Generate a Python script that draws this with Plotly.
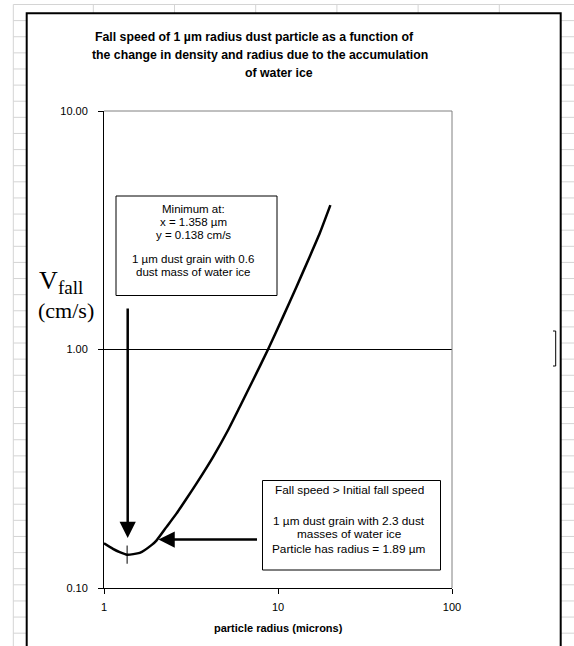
import plotly.graph_objects as go

# ---------------- data ----------------
radius_um = [1.0, 1.126, 1.231, 1.358, 1.604, 1.89, 2.0, 2.283, 2.607, 2.977, 3.397,
             4.23, 5.16, 6.025, 7.18, 8.76, 10.68, 12.76, 15.21, 17.37, 20.0]
vfall_cms = [0.154, 0.146, 0.1414, 0.138, 0.1403, 0.152, 0.158, 0.180, 0.205, 0.2368, 0.274,
             0.354, 0.4585, 0.574, 0.743, 1.0, 1.37, 1.83, 2.45, 3.07, 4.03]
min_radius = [1.358]
min_vfall = [0.138]

x_ticks = [1, 10, 100]
x_tick_labels = ["1", "10", "100"]
y_ticks = [0.1, 1, 10]
y_tick_labels = ["0.10", "1.00", "10.00"]

title_lines = ["Fall speed of 1 µm radius dust particle as a function of",
               "the change in density and radius due to the accumulation",
               "of water ice"]
box1_lines = ["Minimum at:", "x = 1.358 µm", "y = 0.138 cm/s",
              "1 µm dust grain with 0.6", "dust mass of water ice"]
box2_lines = ["Fall speed > Initial fall speed", "1 µm dust grain with 2.3 dust",
              "masses of water ice", "Particle has radius = 1.89 µm"]
x_title = "particle radius (microns)"

# ---------------- layout geometry (pixels) ----------------
W, H = 574, 646
PL, PR, PT, PB = 104, 452, 111, 588


def xp(px):
    return (px - PL) / (PR - PL)


def yp(py):
    return (PB - py) / (PB - PT)


SANS = "Liberation Sans, Arial, sans-serif"
SERIF = "Liberation Serif, Times New Roman, serif"

fig = go.Figure()
fig.add_trace(go.Scatter(x=radius_um, y=vfall_cms, mode="lines",
                         line=dict(color="black", width=2.5, shape="spline", smoothing=0.5),
                         hoverinfo="skip", showlegend=False))
fig.add_trace(go.Scatter(x=min_radius, y=min_vfall, mode="markers",
                         marker=dict(symbol="line-ns", size=13, line=dict(color="black", width=1)),
                         hoverinfo="skip", showlegend=False))

shapes = []
GRID = "#d4d4d4"
# spreadsheet background grid
row_y = [4.5 + 16.12 * n for n in range(41)]
shapes.append(dict(type="line", xref="paper", yref="paper", x0=xp(13.3), x1=xp(574),
                   y0=yp(row_y[0]), y1=yp(row_y[0]), line=dict(color=GRID, width=1), layer="below"))
shapes.append(dict(type="line", xref="paper", yref="paper", x0=xp(13.3), x1=xp(13.3),
                   y0=yp(row_y[0]), y1=yp(660), line=dict(color=GRID, width=1), layer="below"))
for y in row_y[1:]:
    shapes.append(dict(type="line", xref="paper", yref="paper", x0=xp(13.3), x1=xp(26.7),
                       y0=yp(y), y1=yp(y), line=dict(color=GRID, width=1), layer="below"))
    shapes.append(dict(type="line", xref="paper", yref="paper", x0=xp(560.7), x1=xp(574),
                       y0=yp(y), y1=yp(y), line=dict(color=GRID, width=1), layer="below"))
for cx in [93.3, 174.5, 255.7, 336.9, 418.1, 499.3]:
    shapes.append(dict(type="line", xref="paper", yref="paper", x0=xp(cx), x1=xp(cx),
                       y0=yp(row_y[0]), y1=yp(13.3), line=dict(color=GRID, width=1), layer="below"))

# chart area border
shapes.append(dict(type="rect", xref="paper", yref="paper", x0=xp(26.7), x1=xp(560.7),
                   y0=yp(660), y1=yp(13.3), line=dict(color="black", width=2), layer="below"))
# plot area top/right border (grey)
shapes.append(dict(type="line", xref="paper", yref="paper", x0=0, x1=1, y0=1, y1=1,
                   line=dict(color="#808080", width=1), layer="above"))
shapes.append(dict(type="line", xref="paper", yref="paper", x0=1, x1=1, y0=0, y1=1,
                   line=dict(color="#808080", width=1), layer="above"))
# text boxes
shapes.append(dict(type="rect", xref="paper", yref="paper", x0=xp(116), x1=xp(277),
                   y0=yp(295.5), y1=yp(196), line=dict(color="black", width=1),
                   fillcolor="white", layer="above"))
shapes.append(dict(type="rect", xref="paper", yref="paper", x0=xp(262.5), x1=xp(440.5),
                   y0=yp(570), y1=yp(480.5), line=dict(color="black", width=1),
                   fillcolor="white", layer="above"))
# small bracket artefact at right edge
shapes.append(dict(type="path", xref="paper", yref="paper",
                   path="M {a},{b} L {c},{b} L {c},{d} L {a},{d}".format(
                       a=xp(553), c=xp(555.7), b=yp(331), d=yp(366)),
                   line=dict(color="black", width=1), layer="above"))

ann = []


def txt(text, px, py, size=11.5, bold=False, family=SANS, xanchor="center"):
    ann.append(dict(text=("<b>%s</b>" % text) if bold else text, xref="paper", yref="paper",
                    x=xp(px), y=yp(py), xanchor=xanchor, yanchor="middle", showarrow=False,
                    font=dict(family=family, size=size, color="black")))


# title
for line, cx, cy in zip(title_lines, [254, 260, 279], [37, 55, 73]):
    txt(line, cx, cy, size=12.3, bold=True)
# box 1
for line, cy in zip(box1_lines, [209, 222, 235, 259, 272]):
    txt(line, 193, cy, size=11.5)
# box 2
for line, cy in zip(box2_lines, [489.5, 521, 534, 548.5]):
    txt(line, 349, cy, size=11.8)
# axis titles
txt(x_title, 278, 628, size=11, bold=True)
txt("V", 48.5, 280, size=26, family=SERIF)
txt("fall", 70, 287, size=19, family=SERIF)
txt("(cm/s)", 66, 310, size=22, family=SERIF)

# arrows
ann.append(dict(text="", xref="paper", yref="paper", x=xp(127.7), y=yp(538),
                ax=0, ay=-231, showarrow=True, arrowhead=2, arrowsize=1.3,
                arrowwidth=2.5, arrowcolor="black", standoff=0))
ann.append(dict(text="", xref="paper", yref="paper", x=xp(158.5), y=yp(539.5),
                ax=100, ay=0, showarrow=True, arrowhead=2, arrowsize=1.3,
                arrowwidth=2.5, arrowcolor="black", standoff=0))

fig.update_layout(
    width=W, height=H,
    margin=dict(l=PL, r=W - PR, t=PT, b=H - PB, pad=0),
    paper_bgcolor="white", plot_bgcolor="white",
    showlegend=False,
    shapes=shapes, annotations=ann,
    xaxis=dict(type="log", range=[0, 2], tickvals=x_ticks, ticktext=x_tick_labels,
               ticks="outside", ticklen=5, tickcolor="black", tickwidth=1,
               showline=True, linecolor="black", linewidth=1, showgrid=False, zeroline=False,
               tickfont=dict(family=SANS, size=11, color="black"), ticklabelstandoff=4),
    yaxis=dict(type="log", range=[-1, 1], tickvals=y_ticks, ticktext=y_tick_labels,
               ticks="outside", ticklen=5, tickcolor="black", tickwidth=1,
               showline=True, linecolor="black", linewidth=1, showgrid=True,
               gridcolor="black", gridwidth=1, zeroline=False,
               tickfont=dict(family=SANS, size=11, color="black"), ticklabelstandoff=8),
)

fig.write_html("out.html", config={"displayModeBar": False},
               post_script="document.body.style.margin='0';document.body.style.overflow='hidden';")
